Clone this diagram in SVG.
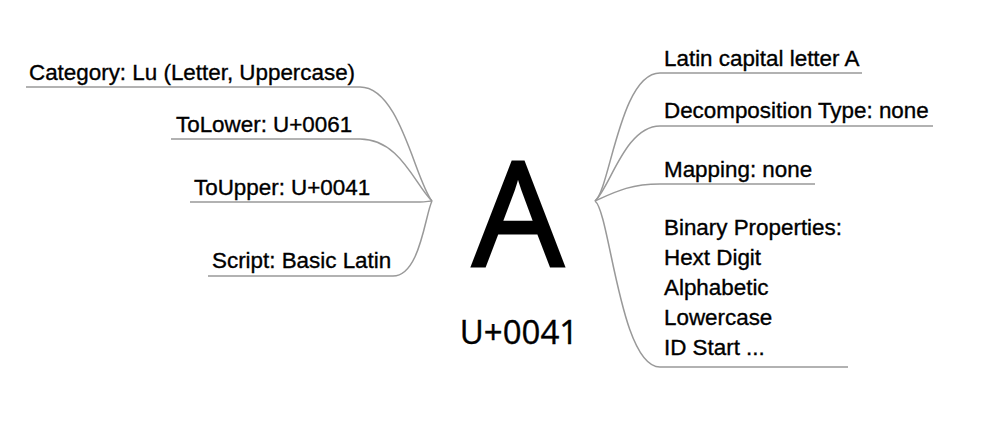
<svg xmlns="http://www.w3.org/2000/svg" width="982" height="425" viewBox="0 0 982 425">
<style>
.lbl{font-family:"Liberation Sans",Arial,sans-serif;font-size:22.4px;fill:#000;stroke:#000;stroke-width:0.35}
.big{font-family:"Open Sans","Noto Sans",sans-serif;fill:#000;text-anchor:middle}
.ln{fill:none;stroke:#999;stroke-width:1.5}
</style>
<rect width="982" height="425" fill="#fff"/>
<g id="connectors">
<path class="ln" d="M26,87 H360 C400,87 415,180 432,201"/>
<path class="ln" d="M171,139 H360 C400,139 415,185 432,201"/>
<path class="ln" d="M190,202 H420 C426,202 429,201 432,201"/>
<path class="ln" d="M208,276 H393 C420,276 425,215 432,201"/>
<path class="ln" d="M595,201 C610,190 620,73 660,73 H862"/>
<path class="ln" d="M595,201 C610,188 625,126 660,126 H933"/>
<path class="ln" d="M595,201 C615,192 630,184 660,184 H815"/>
<path class="ln" d="M595,201 C610,212 620,367 660,367 H848"/>
</g>
<g id="center">
<text class="big" x="518" y="266" font-size="144" stroke="#000" stroke-width="3">A</text>
<text class="big" x="519" y="344" font-size="33" stroke="#000" stroke-width="0.4">U+0041</text>
</g>
<g id="n-category"><text class="lbl" x="29" y="80">Category: Lu (Letter, Uppercase)</text></g>
<g id="n-tolower"><text class="lbl" x="176" y="132">ToLower: U+0061</text></g>
<g id="n-toupper"><text class="lbl" x="194" y="195">ToUpper: U+0041</text></g>
<g id="n-script"><text class="lbl" x="212" y="268">Script: Basic Latin</text></g>
<g id="n-name"><text class="lbl" x="664" y="66">Latin capital letter A</text></g>
<g id="n-decomp"><text class="lbl" x="664" y="118">Decomposition Type: none</text></g>
<g id="n-mapping"><text class="lbl" x="664" y="177">Mapping: none</text></g>
<g id="n-binary"><text class="lbl" x="664" y="235">Binary Properties:</text><text class="lbl" x="664" y="265">Hext Digit</text><text class="lbl" x="664" y="295">Alphabetic</text><text class="lbl" x="664" y="325">Lowercase</text><text class="lbl" x="664" y="355">ID Start ...</text></g>
</svg>
